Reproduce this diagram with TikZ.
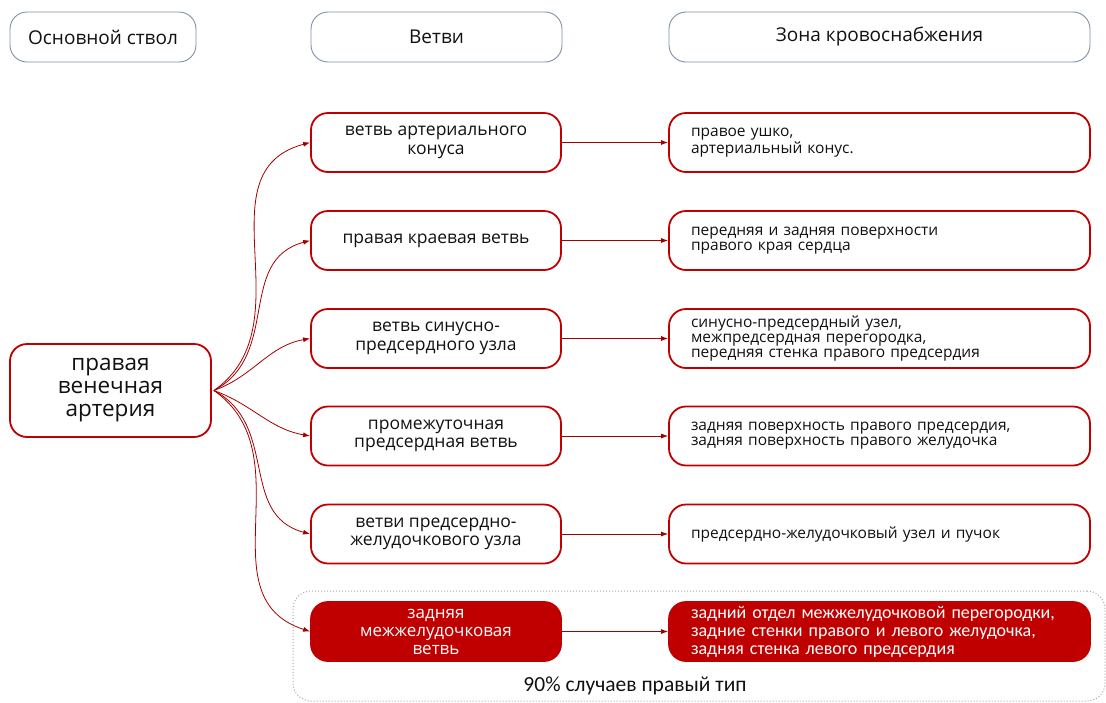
\documentclass[tikz,border=0pt]{standalone}
\usepackage{fontspec}
\setmainfont{Open Sans}
\newfontfamily\carl{Carlito}
\usetikzlibrary{arrows.meta}
\definecolor{cred}{HTML}{C00000}
\definecolor{hdr}{HTML}{7F8FA6}
\definecolor{txt}{HTML}{111111}
\definecolor{grp}{HTML}{A8A8A8}
\begin{document}
\begin{tikzpicture}[x=1pt,y=-1pt,
  hdrbox/.style={draw=hdr,line width=0.9pt,rounded corners=17pt,fill=white,
    minimum height=50pt,inner sep=0pt,text=txt,font=\fontsize{19}{21}\selectfont},
  brbox/.style={draw=cred,line width=1.8pt,rounded corners=17pt,fill=white,
    minimum width=250pt,minimum height=59pt,inner sep=0pt,align=center,text=txt,
    font=\fontsize{17.5}{18.5}\selectfont},
  znbox/.style={draw=cred,line width=1.8pt,rounded corners=17pt,fill=white,
    text width=377pt,inner xsep=22pt,inner ysep=0pt,minimum height=59pt,align=left,text=txt,
    font=\fontsize{15.5}{15}\selectfont},
  redbr/.style={brbox,fill=cred,text=white,font=\fontsize{17}{18}\selectfont},
  redzn/.style={znbox,fill=cred,text=white,font=\carl\fontsize{18}{18}\selectfont},
  arr/.style={draw=cred!85!black,line width=0.8pt,-{Latex[length=7pt,width=5pt]}}
]
\useasboundingbox (0,0) rectangle (1106,702);
% group
\node[draw=grp,dotted,line width=1pt,rounded corners=18pt,minimum width=812pt,minimum height=110pt,inner sep=0pt] (grp) at (699,646) {};
\node[font=\carl\fontsize{21.5}{23}\selectfont,text=txt,inner sep=0pt] (lbl) at (635,686) {90\% случаев правый тип};
% headers
\node[hdrbox,minimum width=186pt] (h1) at (103,37) {Основной ствол};
\node[hdrbox,minimum width=251pt] (h2) at (436.5,37) {Ветви};
\node[hdrbox,minimum width=421pt] (h3) at (879.5,37) {Зона кровоснабжения};
% main
\node[brbox,minimum width=201pt,minimum height=93pt,font=\fontsize{22.5}{23}\selectfont] (main) at (110.5,390.5) {правая\\венечная\\артерия};
% branches
\node[brbox] (b1) at (436,142.5) {ветвь артериального\\конуса};
\node[brbox] (b2) at (436,240.5) {правая краевая ветвь};
\node[brbox] (b3) at (436,338.5) {ветвь синусно-\\предсердного узла};
\node[brbox] (b4) at (436,436) {промежуточная\\предсердная ветвь};
\node[brbox] (b5) at (436,534) {ветви предсердно-\\желудочкового узла};
\node[redbr] (b6) at (436,631.5) {задняя\\межжелудочковая\\ветвь};
% zones
\node[znbox] (z1) at (879.5,142.5) {правое ушко,\\артериальный конус.};
\node[znbox] (z2) at (879.5,240.5) {передняя и задняя поверхности\\правого края сердца};
\node[znbox] (z3) at (879.5,338.5) {синусно-предсердный узел,\\межпредсердная перегородка,\\передняя стенка правого предсердия};
\node[znbox] (z4) at (879.5,436) {задняя поверхность правого предсердия,\\задняя поверхность правого желудочка};
\node[znbox] (z5) at (879.5,534) {предсердно-желудочковый узел и пучок};
\node[redzn] (z6) at (879.5,631.5) {задний отдел межжелудочковой перегородки,\\задние стенки правого и левого желудочка,\\задняя стенка левого предсердия};
% fan
\coordinate (src) at ([xshift=2pt]main.east);
\draw[arr] (src) to[out=35,in=195,looseness=1.1] (b1.west);
\draw[arr] (src) to[out=28,in=195,looseness=1.1] (b2.west);
\draw[arr] (src) to[out=20,in=190,looseness=1] (b3.west);
\draw[arr] (src) to[out=-20,in=170,looseness=1] (b4.west);
\draw[arr] (src) to[out=-28,in=165,looseness=1.1] (b5.west);
\draw[arr] (src) to[out=-35,in=162,looseness=1.1] (b6.west);
% horizontal
\foreach \i in {1,...,6}{\draw[arr] (b\i.east) -- (z\i.west);}
\end{tikzpicture}
\end{document}
